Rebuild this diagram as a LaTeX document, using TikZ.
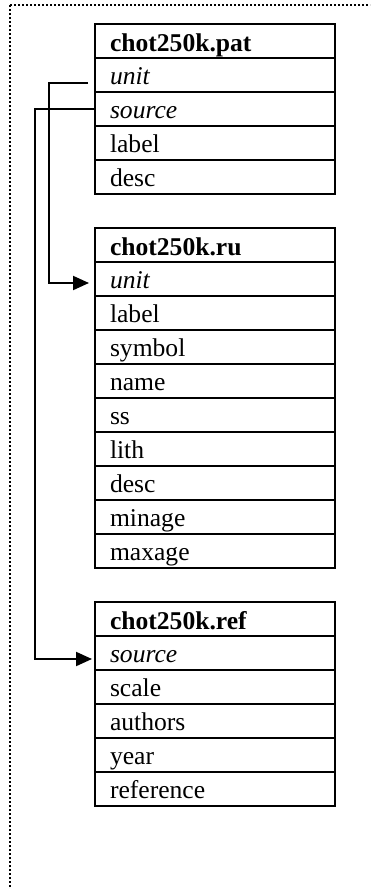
\documentclass[tikz,border=0pt]{standalone}
\usepackage{fontspec}
\setmainfont{Liberation Serif}
\usepackage{tikz}
\usetikzlibrary{arrows.meta}

\tikzset{
    field/.style={rectangle, draw, line width=1pt, outer sep=0pt,
        minimum width=120pt, minimum height=17pt, inner ysep=0pt,
        inner xsep=7.5pt, text width=105pt, align=left,
        text height=9.5pt, text depth=0pt,
        font=\fontsize{12.8pt}{15pt}\selectfont},
    tablehead/.style={field, text height=10.5pt,
        font=\fontsize{12.8pt}{15pt}\selectfont\bfseries},
    keyfield/.style={field, font=\fontsize{12.8pt}{15pt}\selectfont\itshape},
    link/.style={line width=1pt, -{Triangle[length=8pt,width=7pt]}},
    frame/.style={line width=0.85pt, dash pattern=on 0.85pt off 1.15pt}
}

\begin{document}
\begin{tikzpicture}[x=0.5pt, y=-0.5pt]
    \useasboundingbox (0,0) rectangle (370,888);

    % page frame
    \draw[frame] (10,5) -- (370,5);
    \draw[frame] (10,5) -- (10,888);

    % chot250k.pat
    \node at (215,41) [tablehead] (pathead) {chot250k.pat};
    \node at (215,75) [keyfield] (patunit) {unit};
    \node at (215,109) [keyfield] (patsource) {source};
    \node at (215,143) [field] (patlabel) {label};
    \node at (215,177) [field] (patdesc) {desc};

    % chot250k.ru
    \node at (215,245) [tablehead] (ruhead) {chot250k.ru};
    \node at (215,279) [keyfield] (ruunit) {unit};
    \node at (215,313) [field] (rulabel) {label};
    \node at (215,347) [field] (rusymbol) {symbol};
    \node at (215,381) [field] (runame) {name};
    \node at (215,415) [field] (russ) {ss};
    \node at (215,449) [field] (rulith) {lith};
    \node at (215,483) [field] (rudesc) {desc};
    \node at (215,517) [field] (ruminage) {minage};
    \node at (215,551) [field] (rumaxage) {maxage};

    % chot250k.ref
    \node at (215,619) [tablehead] (refhead) {chot250k.ref};
    \node at (215,653) [keyfield] (refsource) {source};
    \node at (215,687) [field] (refscale) {scale};
    \node at (215,721) [field] (refauthors) {authors};
    \node at (215,755) [field] (refyear) {year};
    \node at (215,789) [field] (refreference) {reference};

    % keys
    \draw[link] ([xshift=-3.5pt,yshift=-4pt]patunit.west) -- ++(-39,0)
        |- ([xshift=-3pt,yshift=-2pt]ruunit.west);
    \draw[link] (patsource.west) -- ++(-60,0)
        |- ([xshift=-1.5pt,yshift=-3pt]refsource.west);
\end{tikzpicture}
\end{document}
